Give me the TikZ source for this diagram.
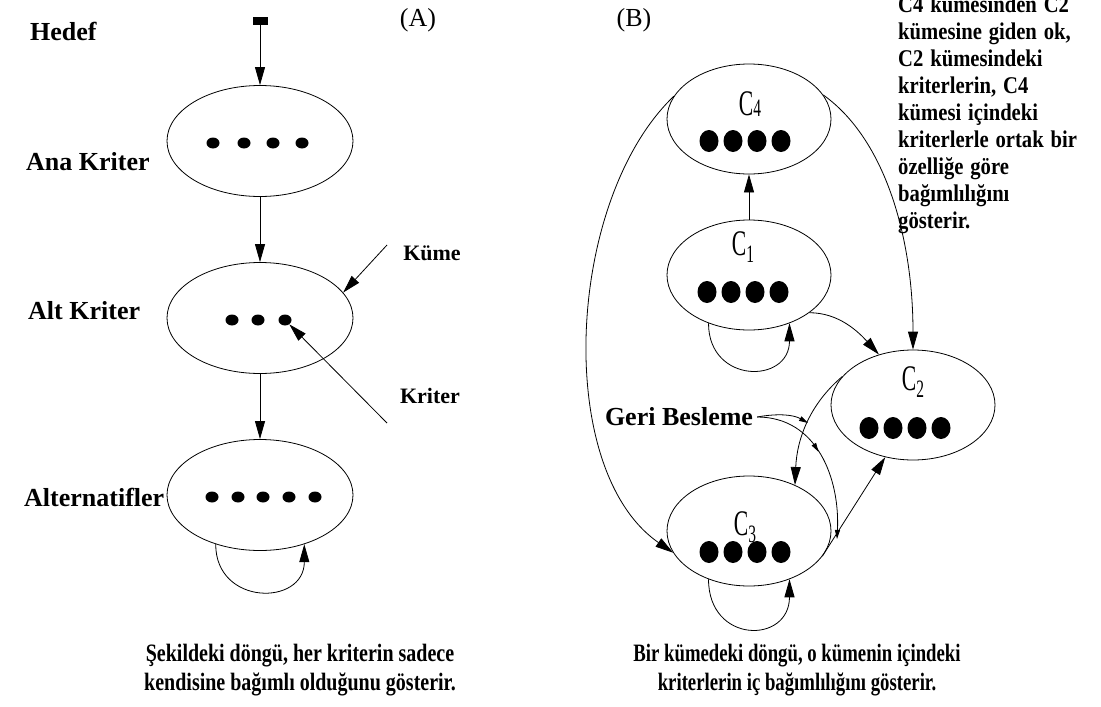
\documentclass[tikz,border=0pt]{standalone}
\usepackage{fontspec}
\setmainfont{Liberation Serif}
\usepackage{tikz}
\usetikzlibrary{shapes.geometric}
\usetikzlibrary{arrows.meta}
\usetikzlibrary{decorations.markings}

% kume adi: dar C ve alt indis
\newcommand{\kumeadi}[2]{\scalebox{0.6}[1]{\fontsize{36}{36}\selectfont C}\raisebox{#2}{\scalebox{0.62}[1]{\fontsize{25}{25}\selectfont #1}}}
% iki yana yaslanmis dar satir
\newcommand{\satir}[1]{\scalebox{0.86}[1]{\makebox[228pt][s]{#1}}}

\tikzset{
  kume/.style={draw, ellipse, line width=0.8pt, inner sep=0pt},
  kumeA/.style={kume, minimum width=186pt, minimum height=111pt},
  kumeB/.style={kume, minimum width=164pt, minimum height=110pt},
  nokta/.style={fill, ellipse, inner sep=0pt, minimum width=13pt, minimum height=11pt},
  buyuknokta/.style={fill, ellipse, inner sep=0pt, minimum width=19pt, minimum height=22pt},
  ok/.style={line width=0.8pt, -{Triangle[length=18pt,width=10pt]}},
  kucukok/.style={line width=0.8pt, -{Triangle[length=9pt,width=5pt]}},
  etiket/.style={font=\fontsize{26}{26}\selectfont\bfseries, inner sep=0pt},
  altyazi/.style={font=\fontsize{25}{29}\selectfont\bfseries, align=center},
}

\begin{document}
\begin{tikzpicture}[x=1pt,y=-1pt]
    \useasboundingbox (0,0) rectangle (1101,707);
    \clip (0,0) rectangle (1101,707);
    % (A)
    \node[font=\fontsize{26}{26}\selectfont] (basA) at (418,20) {(A)};
    \node[etiket, anchor=west] (hedef) at (30,31) {Hedef};
    \node[etiket, anchor=west] (anaad) at (26,162) {Ana Kriter};
    \node[etiket, anchor=west] (altad) at (28,311) {Alt Kriter};
    \node[etiket, anchor=west] (altsad) at (24,497) {Alternatifler};
    \node[fill, inner sep=0pt, minimum width=15pt, minimum height=8pt] (hedefkare) at (260,21) {};
    \node[kumeA] (ana) at (260,141) {};
    \node[kumeA] (alt) at (260,318) {};
    \node[kumeA] (alts) at (260,495) {};
    \foreach \x [count=\i] in {213,244,273,302} \node[nokta] (anadot\i) at (\x,143) {};
    \foreach \x [count=\i] in {232,258,285} \node[nokta] (altdot\i) at (\x,320) {};
    \foreach \x [count=\i] in {212,238,263,289,315} \node[nokta] (altsdot\i) at (\x,497) {};
    \node[font=\fontsize{22}{22}\selectfont\bfseries] (kume) at (432,253) {Küme};
    \node[font=\fontsize{22}{22}\selectfont\bfseries] (kriter) at (430,396) {Kriter};
    \coordinate (kumeuc) at (387,245);
    \coordinate (kriteruc) at (387,423);
    %
  \draw[ok] (hedefkare) -- (ana);
  \draw[ok] (ana) -- (alt);
  \draw[ok] (alt) -- (alts);
  \draw[ok] (alts.228) .. controls +(0,62) and +(0,62) .. (alts.312);
  \draw[ok] (kumeuc) -- (alt.17);
  \draw[ok] (kriteruc) -- (altdot3);
    % (B)
    \node[font=\fontsize{26}{26}\selectfont] (basB) at (634,20) {(B)};
    \node[kumeB] (c4) at (749,119) {};
    \node[kumeB] (c1) at (749,275) {};
    \node[kumeB] (c2) at (913,405) {};
    \node[kumeB] (c3) at (749,531) {};
    \node (c4ad) at (750,104) {\kumeadi{4}{-1pt}};
    \node (c1ad) at (743,247) {\kumeadi{1}{-7pt}};
    \node (c2ad) at (913,382) {\kumeadi{2}{-7pt}};
    \node (c3ad) at (745,527) {\kumeadi{3}{-7pt}};
    \foreach \k/\cx/\cy in {c4/745/141, c1/743/292, c2/905/428, c3/745/552}
      \foreach \d [count=\i] in {-36,-12,12,36}
        \node[buyuknokta] (\k nokta\i) at ({\cx+\d},\cy) {};
    \node[etiket] (geri) at (679,417) {Geri Besleme};
    \coordinate (geriuc1) at (808,423);
    \coordinate (geriuc2) at (837,539);
    %
  \draw[ok] (c1) -- (c4);
  \draw[ok] (c1.230) .. controls +(0,61) and +(0,61) .. (c1.310);
  \draw[ok] (c3.230) .. controls +(0,65) and +(0,65) .. (c3.310);
  \draw[ok] (c1.328) .. controls +(30,0) and +(-20,-22) .. (c2.124);
  \draw[ok] (c4.18) .. controls +(63,45) and +(0,-110) .. (c2.north);
  \draw[ok] (c4.163) .. controls +(-108,103) and +(-120,-83) .. (c3.196);
  \draw[ok] (c2.158) .. controls +(-32,27) and +(2,-47) .. (c3.45);
  \draw[ok] (c3.341) -- (c2.242);
  \draw[kucukok] ([xshift=4pt]geri.east) .. controls +(22,-4) and +(-14,-8) .. (geriuc1);
  \draw[kucukok, postaction={decorate}, decoration={markings, mark=at position 0.45 with {\arrow{Triangle[length=9pt,width=5pt]}}}]
    ([xshift=4pt]geri.east) .. controls +(60,0) and +(3,-60) .. (geriuc2);
    % aciklamalar
    \node[font=\fontsize{24}{26.9}\selectfont\bfseries, text width=196pt, align=left, inner sep=0pt, anchor=north west] (aciklama) at (898,-4) {%
      \satir{C4 kümesinden C2}\\
      \satir{kümesine giden ok,}\\
      \satir{C2 kümesindeki}\\
      \satir{kriterlerin, C4}\\
      \satir{kümesi içindeki}\\
      \satir{kriterlerle ortak bir}\\
      \satir{özelliğe göre}\\
      \scalebox{0.86}[1]{bağımlılığını}\\
      \scalebox{0.86}[1]{gösterir.}};
    \node[altyazi] (altyaziA) at (300,670) {\scalebox{0.8}[1]{Şekildeki döngü, her kriterin sadece}\\ \scalebox{0.8}[1]{kendisine bağımlı olduğunu gösterir.}};
    \node[altyazi] (altyaziB) at (797,670) {\scalebox{0.75}[1]{Bir kümedeki döngü, o kümenin içindeki}\\ \scalebox{0.75}[1]{kriterlerin iç bağımlılığını gösterir.}};
    \end{tikzpicture}
\end{document}
